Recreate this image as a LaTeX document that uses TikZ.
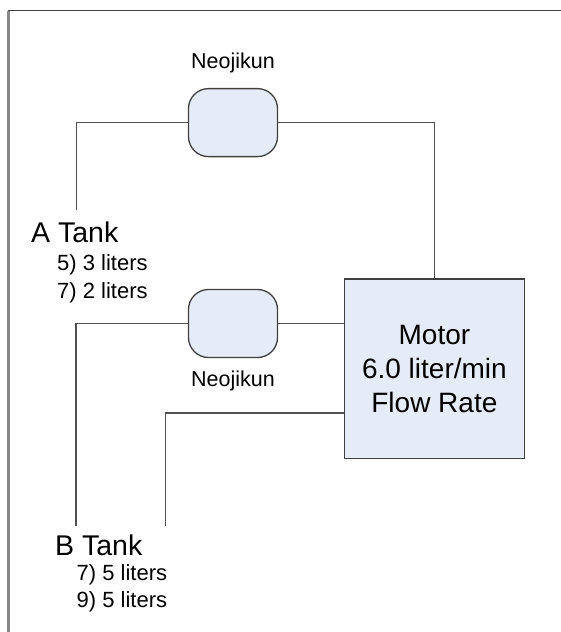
\documentclass[tikz,border=0pt]{standalone}
\usepackage{fontspec}
\setmainfont{Liberation Sans}
\definecolor{pillfill}{HTML}{E6ECF7}
\definecolor{edgecol}{HTML}{404040}
\definecolor{linecol}{HTML}{505050}
\definecolor{framecol}{HTML}{888888}
\begin{document}
\begin{tikzpicture}[x=1pt,y=-1pt,
  pill/.style={draw=edgecol,fill=pillfill,line width=1.3pt,rounded corners=20pt,minimum width=89pt,minimum height=68pt,inner sep=0pt},
  motorbox/.style={draw=edgecol,fill=pillfill,line width=1.3pt,minimum width=179.6pt,minimum height=179.4pt,inner sep=0pt,align=center,font=\fontsize{28}{34}\selectfont},
  pipe/.style={draw=linecol,line width=1.3pt},
  big/.style={inner sep=0pt,anchor=base west,font=\fontsize{28.5}{34}\selectfont},
  small/.style={inner sep=0pt,anchor=base west,font=\fontsize{22}{26}\selectfont},
  lab/.style={inner sep=0pt,anchor=base,font=\fontsize{21.5}{25}\selectfont}]
\useasboundingbox (0,0) rectangle (561,632);
\fill[white] (0,0) rectangle (561,632);
% frame
\draw[framecol,line width=2.5pt] (8.7,10.5) -- (8.7,632);
\draw[edgecol,line width=1.3pt] (7.5,10.5) -- (561,10.5);
% nodes
\node[pill] (pillA) at (233,122.6) {};
\node[pill] (pillB) at (233,323.5) {};
\node[motorbox] (motor) at (434.4,368.6) {Motor\\6.0 liter/min\\Flow Rate};
\node[lab] (labA) at (233,68.3) {Neojikun};
\node[lab] (labB) at (233,386.5) {Neojikun};
\node[big] (tankA) at (31,242.7) {A Tank};
\node[small] (a5) at (57,270) {5) 3 liters};
\node[small] (a7) at (57,298) {7) 2 liters};
\node[big] (tankB) at (55,555) {B Tank};
\node[small] (b7) at (76.5,580) {7) 5 liters};
\node[small] (b9) at (76.5,607.7) {9) 5 liters};
% free ends
\coordinate (aEnd) at (76.2,210.4);
\coordinate (bEnd1) at (76,526);
\coordinate (bEnd2) at (165.7,526);
% connectors
\draw[pipe] (aEnd) |- (pillA.west);
\draw[pipe] (pillA.east) -| (motor.north);
\draw[pipe] (bEnd1) |- (pillB.west);
\draw[pipe] (pillB.east) -- (motor.west |- pillB.east);
\draw[pipe] (bEnd2) |- ([yshift=-44.5pt]motor.west);
\end{tikzpicture}
\end{document}
